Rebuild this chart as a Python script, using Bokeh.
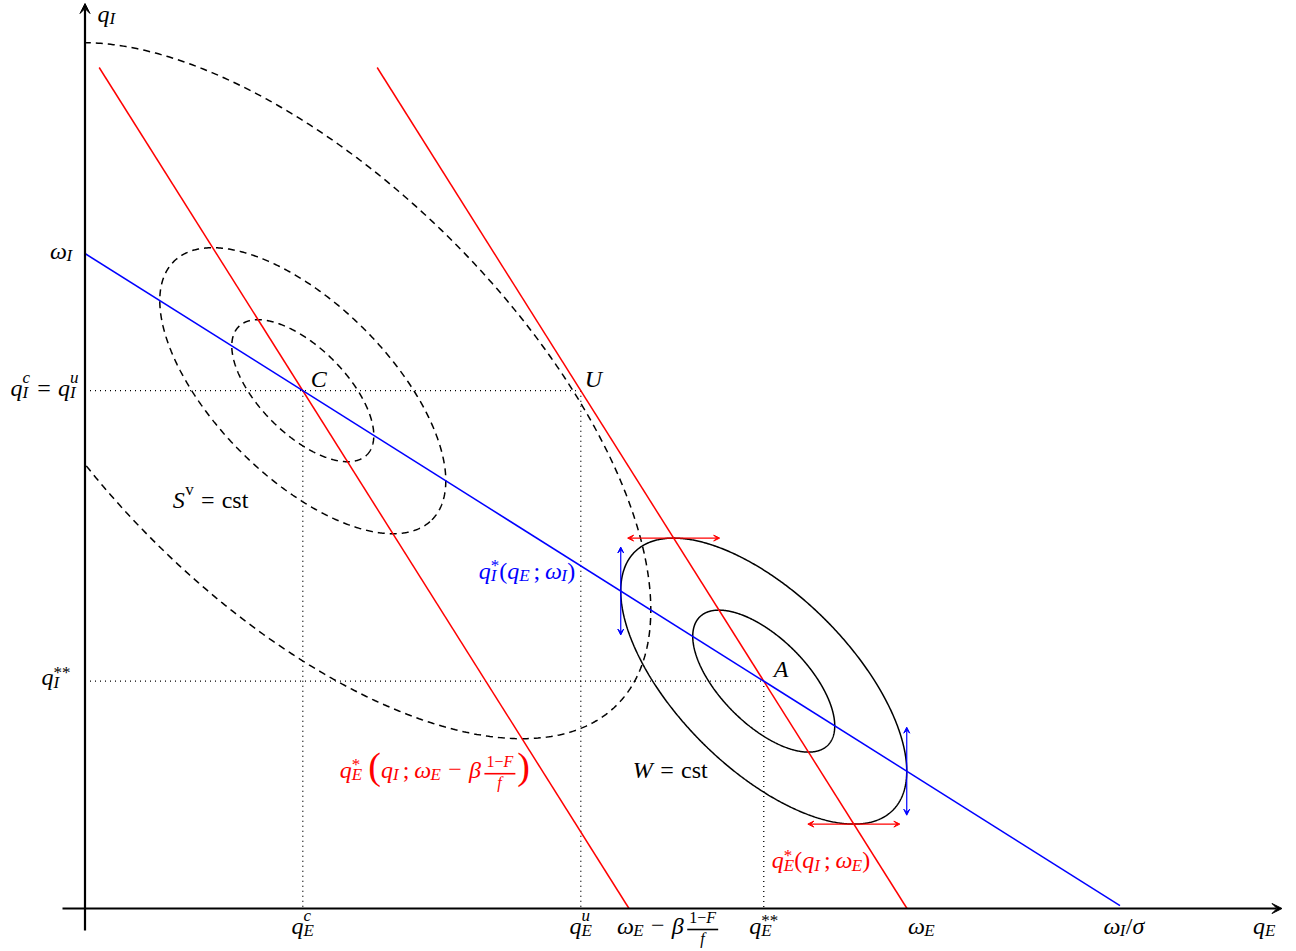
import numpy as np
from bokeh.plotting import figure
from bokeh.models import Range1d, Arrow, VeeHead, ColumnDataSource
from bokeh.core.properties import value, field
from bokeh.embed import file_html
from bokeh.resources import INLINE

# ---------------- model values ----------------
sigma = 0.63            # slope parameter
omega_I = 6.55          # intercept of q_I*(q_E ; omega_I)
omega_E = 8.22          # intercept of q_E*(q_I ; omega_E)
omega_E_shift = 5.44    # omega_E - beta(1-F)/f
qI_red_top = 8.41       # red reaction lines drawn up to this q_I
qE_blue_end = 10.35     # blue reaction line drawn up to this q_E
sv_levels = [0.71, 1.43, 3.48]   # half-widths (in q_E) of S^v = cst curves around C
w_levels = [0.71, 1.43]          # half-widths (in q_E) of W = cst curves around A
arrow_half_v = 0.44
arrow_half_h = 0.46
qE_axis = [-0.225, 11.97]
qI_axis = [-0.22, 9.05]

# ---------------- derived points ----------------
qE_c = (omega_E_shift - sigma * omega_I) / (1 - sigma ** 2)
qI_c = omega_I - sigma * qE_c
qE_ss = (omega_E - sigma * omega_I) / (1 - sigma ** 2)
qI_ss = omega_I - sigma * qE_ss
qE_u = omega_E - sigma * qI_c

PX = 100.0  # pixels per unit
p = figure(width=1296, height=951, x_range=Range1d(-0.845, 12.115),
           y_range=Range1d(-0.43, 9.08), output_backend="svg",
           toolbar_location=None, x_axis_type=None, y_axis_type=None,
           min_border=0)
p.outline_line_color = None
p.background_fill_color = "white"


def ellipse(cx, cy, ext, n=721):
    k = ext ** 2 * (1 - sigma ** 2)
    a = np.sqrt(k / (1 - sigma))
    b = np.sqrt(k / (1 + sigma))
    t = np.linspace(0, 2 * np.pi, n)
    dx = (a * np.cos(t) + b * np.sin(t)) / np.sqrt(2)
    dy = (-a * np.cos(t) + b * np.sin(t)) / np.sqrt(2)
    return cx + dx, cy + dy


# dotted guides
p.segment(x0=[0, qE_c, qE_u, 0, qE_ss], y0=[qI_c, qI_c, qI_c, qI_ss, qI_ss],
          x1=[qE_u, qE_c, qE_u, qE_ss, qE_ss], y1=[qI_c, 0, 0, qI_ss, 0],
          line_color="black", line_width=1.3, line_dash="1 4")

# S^v = cst (dashed), centred on C
for lev in sv_levels:
    ex, ey = ellipse(qE_c, qI_c, lev)
    ex, ey = ex[:-1], ey[:-1]
    m = ex >= 0
    if not m.all():
        start = int(np.argmax((~m) & np.roll(m, -1))) + 1
        ex, ey, m = np.roll(ex, -start), np.roll(ey, -start), np.roll(m, -start)
        idx = np.where(m)[0]
        ex, ey = ex[idx[0]:idx[-1] + 1], ey[idx[0]:idx[-1] + 1]
    else:
        ex, ey = np.append(ex, ex[0]), np.append(ey, ey[0])
    p.line(ex, ey, line_color="black", line_width=1.5, line_dash="7 5")

# W = cst (solid), centred on A
for lev in w_levels:
    ex, ey = ellipse(qE_ss, qI_ss, lev)
    p.line(ex, ey, line_color="black", line_width=1.5)

# reaction lines
qi = np.array([0.0, qI_red_top])
p.line(omega_E_shift - sigma * qi, qi, line_color="red", line_width=1.5)
p.line(omega_E - sigma * qi, qi, line_color="red", line_width=1.5)
qe = np.array([0.0, qE_blue_end])
p.line(qe, omega_I - sigma * qe, line_color="blue", line_width=1.5)

# tangency arrows on the outer W curve
e = w_levels[-1]
for sgn in (-1, 1):
    xv, yv = qE_ss + sgn * e, qI_ss - sgn * sigma * e
    p.add_layout(Arrow(x_start=xv, y_start=yv - arrow_half_v, x_end=xv, y_end=yv + arrow_half_v,
                       line_color="blue", line_width=1.2,
                       start=VeeHead(size=6, fill_color="blue", line_color="blue"),
                       end=VeeHead(size=6, fill_color="blue", line_color="blue")))
    xh, yh = qE_ss - sgn * sigma * e, qI_ss + sgn * e
    p.add_layout(Arrow(x_start=xh - arrow_half_h, y_start=yh, x_end=xh + arrow_half_h, y_end=yh,
                       line_color="red", line_width=1.2,
                       start=VeeHead(size=6, fill_color="red", line_color="red"),
                       end=VeeHead(size=6, fill_color="red", line_color="red")))

# axes
p.add_layout(Arrow(x_start=qE_axis[0], y_start=0, x_end=qE_axis[1], y_end=0,
                   line_color="black", line_width=2.2,
                   end=VeeHead(size=10, fill_color="black", line_color="black")))
p.add_layout(Arrow(x_start=0, y_start=qI_axis[0], x_end=0, y_end=qI_axis[1],
                   line_color="black", line_width=2.2,
                   end=VeeHead(size=10, fill_color="black", line_color="black")))

# ---------------- math-like text layout ----------------
S, SS, SF, BIG = 24, 17, 16, 38
SUB_DY, SUP_DY, STAR_DY = -5, 10, 5
FR_NUM, FR_BAR, FR_DEN = 8, 5, -13
TEXT_DY = 9   # baseline correction for the text glyph
IT = {'q': .5, 'I': .36, 'E': .62, 'C': .67, 'U': .72, 'A': .62, 'S': .52, 'W': .85,
      'F': .62, 'f': .32, 'u': .5, 'c': .45, 'ω': .68, 'β': .56, 'σ': .56}
RM = {'c': .444, 's': .389, 't': .278, '=': .564, '(': .333, ')': .333, ';': .278,
      '1': .5, '−': .564, '/': .278, '*': .5, 'v': .5}


def wid(t, size, italic):
    d = IT if italic else RM
    return sum(d.get(ch, .5) for ch in t) * size


T = dict(x=[], y=[], text=[], size=[], style=[], color=[])
BARS = []


def layout(pieces):
    items, bars, cur, last = [], [], 0.0, (0.0, 0.0)
    for pc in pieces:
        kind = pc[1]
        if kind == 'g':
            cur += pc[0] * S
            continue
        if kind == 'frac':
            num, den = pc[0]
            nw = sum(wid(t, SF, it) for t, it in num)
            dw = sum(wid(t, SF, it) for t, it in den)
            bw = max(nw, dw) + 4
            x0 = cur + 2
            xx = x0 + (bw - nw) / 2
            for t, it in num:
                items.append((t, xx, FR_NUM, SF, it))
                xx += wid(t, SF, it)
            xx = x0 + (bw - dw) / 2
            for t, it in den:
                items.append((t, xx, FR_DEN, SF, it))
                xx += wid(t, SF, it)
            bars.append((x0, x0 + bw, FR_BAR))
            cur = x0 + bw + 2
            continue
        text = pc[0]
        stacked = kind.startswith('&')
        k = kind.lstrip('&')
        italic = k[0] == 'i'
        if k in ('i', 'r'):
            size, dy = S, 0
        elif k == 'big':
            size, dy = BIG, 4
        elif k.endswith('_'):
            size, dy = SS, SUB_DY
        else:
            size, dy = SS, (STAR_DY if set(text) == {'*'} else SUP_DY)
        start = last[0] if stacked else cur
        w = wid(text, size, italic)
        items.append((text, start, dy, size, italic))
        end = start + w
        cur = max(last[1], end) if stacked else end
        last = (start, end)
    return items, bars, cur


def place(pieces, x, y, dx=0, dy=0, align='left', color='black'):
    items, bars, w = layout(pieces)
    shift = {'left': 0, 'center': -w / 2, 'right': -w}[align] + dx
    for t, px, pdy, size, it in items:
        T['x'].append(x + (px + shift) / PX)
        T['y'].append(y + (dy + pdy + TEXT_DY) / PX)
        T['text'].append(t)
        T['size'].append(f"{size}px")
        T['style'].append('italic' if it else 'normal')
        T['color'].append(color)
    for b0, b1, bdy in bars:
        BARS.append((x + (b0 + shift) / PX, x + (b1 + shift) / PX, y + (dy + bdy) / PX, color))


FRAC = ([('1', False), ('−', False), ('F', True)], [('f', True)])
G = lambda w: (w, 'g')

# axis titles
place([('q', 'i'), ('I', 'i_')], 0, qI_axis[1], dx=12.5, dy=-19)
place([('q', 'i'), ('E', 'i_')], qE_axis[1], 0, dx=-29, dy=-26)

# y-axis labels
place([('ω', 'i'), ('I', 'i_')], 0, omega_I, dx=-12.5, dy=-6, align='right')
place([('q', 'i'), ('I', 'i_'), ('c', '&i^'), G(.3), ('=', 'r'), G(.3),
       ('q', 'i'), ('I', 'i_'), ('u', '&i^')], 0, qI_c, dx=-6.5, dy=-6, align='right')
place([('q', 'i'), ('I', 'i_'), ('**', '&r^')], 0, qI_ss, dx=-14.5, dy=-5, align='right')

# x-axis labels
place([('q', 'i'), ('E', 'i_'), ('c', '&i^')], qE_c, 0, dy=-26, align='center')
place([('q', 'i'), ('E', 'i_'), ('u', '&i^')], qE_u, 0, dy=-26, align='center')
place([('ω', 'i'), ('E', 'i_'), G(.3), ('−', 'r'), G(.3), ('β', 'i'), (FRAC, 'frac')],
      omega_E_shift, 0, dx=-12, dy=-26)
place([('q', 'i'), ('E', 'i_'), ('**', '&r^')], qE_ss, 0, dy=-26, align='center')
place([('ω', 'i'), ('E', 'i_')], omega_E, 0, dx=1, dy=-26)
place([('ω', 'i'), ('I', 'i_'), ('/', 'r'), ('σ', 'i')], omega_I / sigma, 0, dy=-26, align='center')

# points
place([('C', 'i')], qE_c, qI_c, dx=8, dy=3)
place([('U', 'i')], qE_u, qI_c, dx=4, dy=3)
place([('A', 'i')], qE_ss, qI_ss, dx=10, dy=3)

# curve labels
place([('S', 'i'), ('v', 'r^'), G(.3), ('=', 'r'), G(.3), ('cst', 'r')],
      qE_c, qI_c, dx=-130, dy=-118)
place([('W', 'i'), G(.3), ('=', 'r'), G(.3), ('cst', 'r')],
      qE_ss, qI_ss, dx=-131, dy=-98)
place([('q', 'i'), ('I', 'i_'), ('*', '&r^'), ('(', 'r'), ('q', 'i'), ('E', 'i_'), G(.15),
       (';', 'r'), G(.2), ('ω', 'i'), ('I', 'i_'), (')', 'r')],
      qE_c, qI_c, dx=176, dy=-189, color='blue')
place([('q', 'i'), ('E', 'i_'), ('*', '&r^'), ('(', 'r'), ('q', 'i'), ('I', 'i_'), G(.15),
       (';', 'r'), G(.2), ('ω', 'i'), ('E', 'i_'), (')', 'r')],
      qE_ss, qI_ss, dx=8, dy=-188, color='red')
place([('q', 'i'), ('E', 'i_'), ('*', '&r^'), G(.25), ('(', 'big'), ('q', 'i'), ('I', 'i_'), G(.15),
       (';', 'r'), G(.2), ('ω', 'i'), ('E', 'i_'), G(.3), ('−', 'r'), G(.3), ('β', 'i'),
       (FRAC, 'frac'), (')', 'big')],
      qE_c, qI_c, dx=37, dy=-388, color='red')

for bx0, bx1, by, bc in BARS:
    p.segment(x0=[bx0], y0=[by], x1=[bx1], y1=[by], line_color=bc, line_width=1.6)

p.text(x='x', y='y', text='text', source=ColumnDataSource(T),
       text_font=value("Liberation Serif"), text_font_size=field('size'),
       text_font_style=field('style'), text_color=field('color'),
       text_align='left', text_baseline='alphabetic')

open("out.html", "w").write(file_html(p, INLINE))
